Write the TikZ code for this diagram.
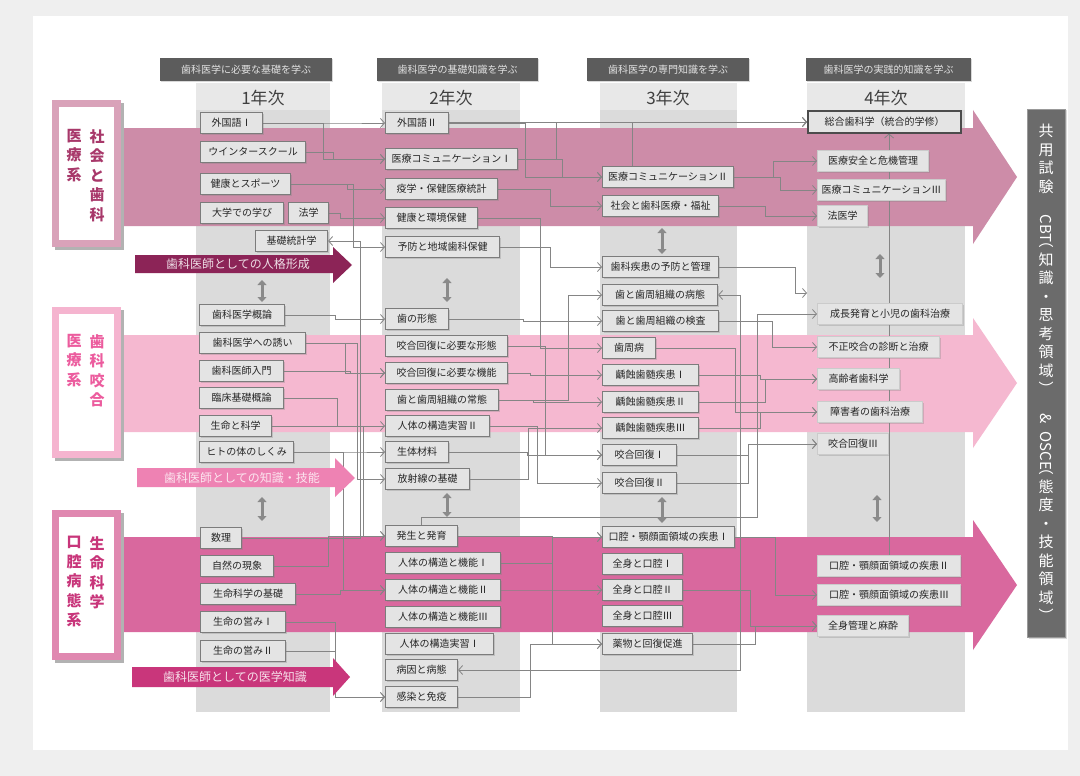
\documentclass[tikz,border=0pt]{standalone}
\usepackage{fontspec}
\newfontfamily\jp{Noto Sans CJK JP}
\usepackage{graphicx}
\usetikzlibrary{arrows.meta,shadows}
\definecolor{panelgray}{HTML}{EFEFEF}
\definecolor{colgray}{HTML}{DBDBDB}
\definecolor{yeargray}{HTML}{E8E8E8}
\definecolor{headdark}{HTML}{5C5C5C}
\definecolor{headtext}{HTML}{E2E2E2}
\definecolor{bandsoc}{HTML}{CD8CA8}
\definecolor{bandocc}{HTML}{F5B8D0}
\definecolor{bandlife}{HTML}{D9689E}
\definecolor{textsoc}{HTML}{A8386A}
\definecolor{textocc}{HTML}{EC5C9E}
\definecolor{textlife}{HTML}{C8357A}
\definecolor{framesoc}{HTML}{D9A2B9}
\definecolor{frameocc}{HTML}{F5B4CF}
\definecolor{framelife}{HTML}{E088B0}
\definecolor{arrsoc}{HTML}{8C2457}
\definecolor{arrocc}{HTML}{EE82B3}
\definecolor{arrlife}{HTML}{C9367B}
\definecolor{boxfill}{HTML}{E4E4E4}
\definecolor{boxline}{HTML}{7C7C7C}
\definecolor{wiregray}{HTML}{858585}
\definecolor{updowngray}{HTML}{8A8A8A}
\definecolor{cbtgray}{HTML}{6B6B6B}
\pgfdeclarelayer{back}
\pgfdeclarelayer{wires}
\pgfsetlayers{back,wires,main}
\newcommand{\linkto}[3]{\draw[wire] (#1.east) -| (x#2 |- #3.west) -- (#3.west);}

\begin{document}
\begin{tikzpicture}[x=1pt, y=-1pt,
    course/.style={draw=boxline, fill=boxfill, line width=1.1pt, anchor=west, minimum height=21pt,
        inner xsep=4pt, inner ysep=0pt, text=black!85, font=\jp\fontsize{10}{12}\selectfont,
        drop shadow={shadow xshift=1.2pt, shadow yshift=-1.2pt, opacity=0.3}},
    late/.style={course, draw=boxline!40},
    goal/.style={course, draw=black!70, line width=2pt},
    wire/.style={draw=wiregray, line width=0.8pt, -{Straight Barb[length=4pt,width=9pt]}},
    updown/.style={draw=updowngray, line width=3pt, {Triangle[length=5pt,width=9pt]}-{Triangle[length=5pt,width=9pt]}},
    headbox/.style={fill=headdark, text=headtext, minimum height=23pt, inner sep=0pt,
        font=\jp\fontsize{10}{12}\selectfont, drop shadow={shadow xshift=1pt, shadow yshift=-1.5pt, opacity=0.3}},
    yeartext/.style={font=\jp\fontsize{17}{20}\selectfont, text=black!75, inner sep=0pt},
    sidelabel/.style={align=center, anchor=north, inner sep=0pt, font=\jp\bfseries\fontsize{15}{19.5}\selectfont},
    ribbontext/.style={inner sep=0pt, font=\jp\fontsize{12}{14}\selectfont}
]
\useasboundingbox (0,0) rectangle (1080,776);

\begin{pgfonlayer}{back}
% panel and year columns
\fill[panelgray] (0,0) rectangle (1080,776);
\fill[white] (33,16) rectangle (1068,750);
\foreach \l/\r in {196/330, 382/520, 600/737, 807/965} {
    \fill[colgray] (\l,83) rectangle (\r,712);
    \fill[yeargray] (\l,83) rectangle (\r,110);
}
% the three bands
\fill[bandsoc] (100,128) -- (973,128) -- (973,110) -- (1017,177) -- (973,244) -- (973,226) -- (100,226) -- cycle;
\fill[bandocc] (100,335) -- (973,335) -- (973,318) -- (1017,383) -- (973,448) -- (973,432) -- (100,432) -- cycle;
\fill[bandlife] (100,537) -- (973,537) -- (973,520) -- (1017,585) -- (973,650) -- (973,632) -- (100,632) -- cycle;
\end{pgfonlayer}

% headers
\node[headbox, minimum width=172pt] (hd1) at (246,69.5) {歯科医学に必要な基礎を学ぶ};
\node[headbox, minimum width=161pt] (hd2) at (457.5,69.5) {歯科医学の基礎知識を学ぶ};
\node[headbox, minimum width=162pt] (hd3) at (668,69.5) {歯科医学の専門知識を学ぶ};
\node[headbox, minimum width=165pt] (hd4) at (888.5,69.5) {歯科医学の実践的知識を学ぶ};
\node[yeartext] (yr1) at (263,98) {1年次};
\node[yeartext] (yr2) at (451,98) {2年次};
\node[yeartext] (yr3) at (668,98) {3年次};
\node[yeartext] (yr4) at (886,98) {4年次};

% band labels
\fill[black!30] (55,103) rectangle (124,250);
\fill[framesoc] (52,100) rectangle (121,247);
\fill[white] (59,107) rectangle (114,240);
\node[sidelabel, text=textsoc] (soc1) at (97,129) {社\\会\\と\\歯\\科};
\node[sidelabel, text=textsoc] (soc2) at (74,129) {医\\療\\系};

\fill[black!30] (55,310) rectangle (124,461);
\fill[frameocc] (52,307) rectangle (121,458);
\fill[white] (59,314) rectangle (114,451);
\node[sidelabel, text=textocc] (occ1) at (97,334) {歯\\科\\咬\\合};
\node[sidelabel, text=textocc] (occ2) at (74,334) {医\\療\\系};

\fill[black!30] (55,513) rectangle (124,663);
\fill[framelife] (52,510) rectangle (121,660);
\fill[white] (59,517) rectangle (114,653);
\node[sidelabel, text=textlife] (life1) at (97,536) {生\\命\\科\\学};
\node[sidelabel, text=textlife] (life2) at (74,536) {口\\腔\\病\\態\\系};

% ribbons
\fill[arrsoc] (135,255) -- (333,255) -- (333,247) -- (352,265) -- (333,283) -- (333,273) -- (135,273) -- cycle;
\node[ribbontext, text=white!85!arrsoc] (rb1) at (238,264) {歯科医師としての人格形成};
\fill[arrocc] (137,468) -- (335,468) -- (335,458) -- (355,478) -- (335,497) -- (335,487) -- (137,487) -- cycle;
\node[ribbontext, text=white!80!arrocc] (rb2) at (242,478) {歯科医師としての知識・技能};
\fill[arrlife] (132,667) -- (333,667) -- (333,658) -- (350,677) -- (333,696) -- (333,687) -- (132,687) -- cycle;
\node[ribbontext, text=white!85!arrlife] (rb3) at (235,677) {歯科医師としての医学知識};

% 1st year
\foreach \n/\x/\y/\w/\t in {k1a/200/123/62/外国語Ⅰ, k1b/200/152/105/ウインタースクール,
    k1c/200/184/90/健康とスポーツ, k1d/200/213/83/大学での学び, k1e/288/213/40/法学,
    k1f/255/241/72/基礎統計学, k1g/199/315/85/歯科医学概論, k1h/199/343/106/歯科医学への誘い,
    k1i/199/371/84/歯科医師入門, k1j/199/398/84/臨床基礎概論, k1k/199/426/72/生命と科学,
    k1l/199/452/94/ヒトの体のしくみ, k1m/200/538/41/数理, k1n/200/566/73/自然の現象,
    k1o/200/594/95/生命科学の基礎, k1p/200/622/85/生命の営みⅠ, k1q/200/651/85/生命の営みⅡ}
    \node[course, minimum width=\w pt] (\n) at (\x,\y) {\t};

% 2nd year
\foreach \n/\y/\w/\t in {k2a/123/63/外国語Ⅱ, k2b/159/132/医療コミュニケーションⅠ,
    k2c/189/112/疫学・保健医療統計, k2d/218/92/健康と環境保健, k2e/247/114/予防と地域歯科保健,
    k2f/319/63/歯の形態, k2g/346/122/咬合回復に必要な形態, k2h/373/122/咬合回復に必要な機能,
    k2i/400/113/歯と歯周組織の常態, k2j/426/104/人体の構造実習Ⅱ, k2k/452/63/生体材料,
    k2l/479/84/放射線の基礎, k2m/536/72/発生と発育, k2n/563/115/人体の構造と機能Ⅰ,
    k2o/590/115/人体の構造と機能Ⅱ, k2p/617/115/人体の構造と機能Ⅲ, k2q/644/108/人体の構造実習Ⅰ,
    k2r/670/72/病因と病態, k2s/697/72/感染と免疫}
    \node[course, minimum width=\w pt] (\n) at (385,\y) {\t};

% 3rd year
\foreach \n/\y/\w/\t in {k3a/177/131/医療コミュニケーションⅡ, k3b/206/116/社会と歯科医療・福祉,
    k3c/267/116/歯科疾患の予防と管理, k3d/295/115/歯と歯周組織の病態, k3e/321/116/歯と歯周組織の検査,
    k3f/348/53/歯周病, k3g/375/96/齲蝕歯髄疾患Ⅰ, k3h/402/96/齲蝕歯髄疾患Ⅱ, k3i/428/96/齲蝕歯髄疾患Ⅲ,
    k3j/455/74/咬合回復Ⅰ, k3k/483/74/咬合回復Ⅱ, k3l/537/132/口腔・顎顔面領域の疾患Ⅰ,
    k3m/564/80/全身と口腔Ⅰ, k3n/590/80/全身と口腔Ⅱ, k3o/616/80/全身と口腔Ⅲ, k3p/644/90/薬物と回復促進}
    \node[course, minimum width=\w pt] (\n) at (602,\y) {\t};

% 4th year
\node[goal, minimum width=153pt] (k4a) at (807,122) {総合歯科学（統合的学修）};
\foreach \n/\y/\w/\t in {k4b/161/111/医療安全と危機管理, k4c/190/126/医療コミュニケーションⅢ,
    k4d/216/50/法医学, k4e/314/145/成長発育と小児の歯科治療, k4f/347/122/不正咬合の診断と治療,
    k4g/379/82/高齢者歯科学, k4h/412/105/障害者の歯科治療, k4i/444/71/咬合回復Ⅲ,
    k4j/566/143/口腔・顎顔面領域の疾患Ⅱ, k4k/595/143/口腔・顎顔面領域の疾患Ⅲ, k4l/626/91/全身管理と麻酔}
    \node[late, minimum width=\w pt] (\n) at (817,\y) {\t};
\coordinate (c4in) at (807,293);

% common exam
\node[fill=cbtgray, draw=black!40, minimum width=38pt, minimum height=528pt, inner sep=0pt,
    align=center, text=white, font=\jp\fontsize{15}{18.5}\selectfont,
    drop shadow={shadow xshift=1.5pt, shadow yshift=-1.5pt, opacity=0.3}] (exam) at (1046,373)
    {共\\用\\試\\験\\[4pt]\rotatebox{-90}{CBT}\\︵\\知\\識\\・\\思\\考\\領\\域\\︶\\\rotatebox{-90}{\&}\\\rotatebox{-90}{OSCE}\\︵\\態\\度\\・\\技\\能\\領\\域\\︶};

\begin{pgfonlayer}{wires}
\foreach \b in {323,327,328,333,335,337,340,343,345,347,350,353,357,360,363,
    523,525,527,528,530,533,537,540,545,550,552,556,560,562,568,632,
    735,740,748,750,755,757,760,765,772,773,775,780,795}
    \coordinate (x\b) at (\b,0);
% 1st -> 2nd
\linkto{k1a}{340}{k2a}
\linkto{k1a}{323}{k2b}
\linkto{k1b}{333}{k2b}
\linkto{k1c}{347}{k2c}
\linkto{k1c}{353}{k2e}
\linkto{k1e}{340}{k2d}
\draw[wire] (k1m.east) -| (x360 |- k1f.east) -- (k1f.east);
\linkto{k1g}{335}{k2f}
\linkto{k1h}{345}{k2h}
\linkto{k1i}{350}{k2h}
\linkto{k1h}{357}{k2l}
\linkto{k1j}{337}{k2j}
\linkto{k1k}{363}{k2m}
\linkto{k1l}{350}{k2k}
\linkto{k1l}{343}{k2o}
\linkto{k1n}{328}{k2m}
\linkto{k1o}{340}{k2o}
\linkto{k1p}{335}{k2s}
\linkto{k1q}{335}{k2s}
% 2nd -> 3rd
\draw[wire] (k4a.west -| k2a.east) -- (k4a.west);
\linkto{k2a}{525}{k3a}
\linkto{k2b}{562}{k3a}
\linkto{k2b}{556}{k4a}
\linkto{k2c}{550}{k3b}
\linkto{k2e}{550}{k3c}
\linkto{k2d}{540}{k3f}
\linkto{k2f}{523}{k3e}
\linkto{k2i}{568}{k3d}
\linkto{k2g}{545}{k3j}
\linkto{k2h}{530}{k3g}
\linkto{k2i}{533}{k3h}
\linkto{k2j}{537}{k3k}
\linkto{k2k}{527}{k3j}
\linkto{k2l}{528}{k3i}
\linkto{k2m}{552}{k3l}
\linkto{k2n}{552}{k3l}
\linkto{k2n}{552}{k3p}
\linkto{k2o}{560}{k3n}
\linkto{k2s}{530}{k3p}
\draw[wire, {Straight Barb[length=4pt,width=9pt]}-{Straight Barb[length=4pt,width=9pt]}]
    (k2r.east) -| (x740 |- k3d.east) -- (k3d.east);
\draw[wire] (k2m.north) -- ++(0,-8) -| (x757 |- k4e.west) -- (k4e.west);
\draw[wire] (k3a.north -| x632) |- (k4a.west);
% 3rd -> 4th
\linkto{k3a}{773}{k4b}
\linkto{k3a}{780}{k4c}
\linkto{k3b}{765}{k4d}
\draw[wire] (k3c.east) -| (x795 |- c4in) -- (c4in);
\linkto{k3e}{772}{k4f}
\linkto{k3g}{760}{k4g}
\linkto{k3h}{765}{k4g}
\linkto{k3f}{735}{k4h}
\linkto{k3i}{760}{k4h}
\linkto{k3j}{748}{k4i}
\linkto{k3k}{748}{k4i}
\linkto{k3l}{775}{k4k}
\linkto{k3n}{750}{k4l}
\linkto{k3p}{755}{k4l}
\draw[wire] (k4j.north) -- (k4j.north |- k4a.south);
\end{pgfonlayer}

% links between the bands
\draw[updown] (262,280) -- (262,302);
\draw[updown] (262,497) -- (262,521);
\draw[updown] (447,278) -- (447,302);
\draw[updown] (447,493) -- (447,517);
\draw[updown] (662,228) -- (662,254);
\draw[updown] (662,497) -- (662,523);
\draw[updown] (880,254) -- (880,278);
\draw[updown] (877,495) -- (877,522);
\end{tikzpicture}
\end{document}
